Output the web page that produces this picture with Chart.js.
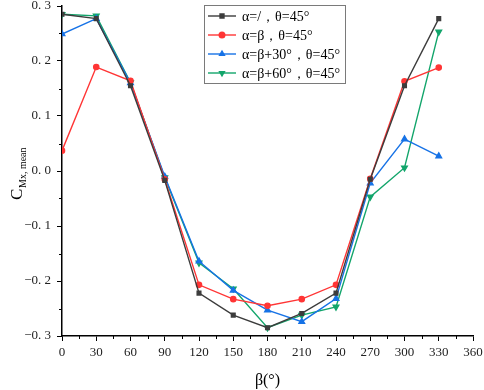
<!DOCTYPE html>
<html>
<head>
<meta charset="utf-8">
<script src="https://cdn.jsdelivr.net/npm/chart.js@4.4.0/dist/chart.umd.min.js"></script>
<style>
html,body{margin:0;padding:0;background:#fff;}
#wrap{width:484px;height:390px;position:relative;}
</style>
</head>
<body>
<div id="wrap"><canvas id="chart"></canvas></div>
<script>
// beta angles (x) and the four series
const betaValues = [0, 30, 60, 90, 120, 150, 180, 210, 240, 270, 300, 330];
const seriesLabels = ['α=/，θ=45°', 'α=β，θ=45°', 'α=β+30°，θ=45°', 'α=β+60°，θ=45°'];
const cmxAlphaNone = [0.285, 0.277, 0.155, -0.017, -0.222, -0.262, -0.285, -0.259, -0.222, -0.015, 0.155, 0.277];
const cmxAlphaBeta = [0.037, 0.189, 0.164, -0.015, -0.207, -0.233, -0.245, -0.233, -0.207, -0.014, 0.163, 0.188];
const cmxAlphaBeta30 = [0.249, 0.277, 0.160, -0.010, -0.164, -0.217, -0.253, -0.274, -0.232, -0.022, 0.058, 0.027];
const cmxAlphaBeta60 = [0.285, 0.282, 0.161, -0.012, -0.167, -0.214, -0.285, -0.262, -0.247, -0.047, 0.006, 0.253];
const xTicks = [0, 30, 60, 90, 120, 150, 180, 210, 240, 270, 300, 330, 360];
const yTicks = [-0.3, -0.2, -0.1, 0.0, 0.1, 0.2, 0.3];

const serif = "'Liberation Serif', 'DejaVu Serif', serif";
const colors = ['#3c3c3c', '#ff3535', '#1672e6', '#12a56b'];
const markers = ['rect', 'circle', 'triangle', 'triangle'];
const rotations = [0, 0, 0, 180];
const allSeries = [cmxAlphaNone, cmxAlphaBeta, cmxAlphaBeta30, cmxAlphaBeta60];

const datasets = allSeries.map((vals, i) => ({
label: seriesLabels[i],
data: vals.map((v, j) => ({x: betaValues[j], y: v})),
borderColor: colors[i],
backgroundColor: colors[i],
borderWidth: 1.4,
pointStyle: markers[i],
rotation: rotations[i],
pointRadius: markers[i] === 'triangle' ? 3.2 : 2.6,
tension: 0
}));

const fmtY = (v) => {
var s = Math.abs(v).toFixed(1).replace('.', '. ');
return (v < -1e-9 ? '\u2212' : '') + s;
};

// minor ticks, y title and in-plot legend
const extras = {
id: 'extras',
afterDraw(chart) {
const ctx = chart.ctx;
const xs = chart.scales.x, ys = chart.scales.y;
ctx.save();
ctx.strokeStyle = '#000';
ctx.lineWidth = 1;
// minor ticks
for (let v = 15; v < 360; v += 30) {
const px = Math.round(xs.getPixelForValue(v)) + 0.5;
ctx.beginPath();
ctx.moveTo(px, ys.bottom);
ctx.lineTo(px, ys.bottom + 3);
ctx.stroke();
}
for (let v = -0.25; v < 0.3; v += 0.1) {
const py = Math.round(ys.getPixelForValue(v)) + 0.5;
ctx.beginPath();
ctx.moveTo(xs.left, py);
ctx.lineTo(xs.left - 3, py);
ctx.stroke();
}
// y title with subscript
ctx.fillStyle = '#000';
ctx.translate(22, 178);
ctx.rotate(-Math.PI / 2);
ctx.textBaseline = 'alphabetic';
ctx.textAlign = 'left';
ctx.font = '17px ' + serif;
ctx.fillText('C', -22, 0);
ctx.font = '10px ' + serif;
ctx.fillText('Mx, mean', -10, 4);
ctx.restore();

// legend box
ctx.save();
const bx = 204, by = 5, bw = 141, bh = 78;
ctx.fillStyle = '#fff';
ctx.fillRect(bx, by, bw, bh);
ctx.strokeStyle = '#7a7a7a';
ctx.lineWidth = 1;
ctx.strokeRect(bx + 0.5, by + 0.5, bw, bh);
ctx.font = '14px ' + serif;
ctx.textBaseline = 'middle';
chart.data.datasets.forEach((ds, i) => {
const cy = by + 11 + i * 19;
ctx.strokeStyle = ds.borderColor;
ctx.lineWidth = 1.4;
ctx.beginPath();
ctx.moveTo(bx + 4, cy);
ctx.lineTo(bx + 32, cy);
ctx.stroke();
ctx.fillStyle = ds.borderColor;
Chart.helpers.drawPoint(ctx, {pointStyle: ds.pointStyle, rotation: ds.rotation, radius: 2.8, borderWidth: 1}, bx + 18, cy);
ctx.fillStyle = '#000';
ctx.fillText(ds.label, bx + 38, cy + 1);
});
ctx.restore();
}
};

new Chart(document.getElementById('chart'), {
type: 'line',
data: {datasets},
options: {
responsive: true,
maintainAspectRatio: false,
animation: false,
layout: {padding: {left: 0, right: 11, top: 6, bottom: 0}},
plugins: {legend: {display: false}, tooltip: {enabled: false}},
scales: {
x: {
type: 'linear',
min: 0, max: 360,
afterBuildTicks: (s) => { s.ticks = xTicks.map(v => ({value: v})); },
ticks: {color: '#222', font: {family: serif, size: 13}, padding: 4, maxRotation: 0, autoSkip: false},
grid: {display: true, drawOnChartArea: false, drawTicks: true, tickLength: 5, color: '#000'},
border: {display: true, color: '#000', width: 1.5},
title: {display: true, text: 'β(°)', color: '#000', font: {family: serif, size: 16}, padding: {top: 2, bottom: 0}},
afterFit: (s) => { s.height = 54; s.paddingLeft = 0; s.paddingRight = 0; }
},
y: {
min: -0.3, max: 0.3,
afterBuildTicks: (s) => { s.ticks = yTicks.map(v => ({value: v})); },
ticks: {color: '#222', font: {family: serif, size: 13}, padding: 6, callback: (v) => fmtY(v)},
grid: {display: true, drawOnChartArea: false, drawTicks: true, tickLength: 5, color: '#000'},
border: {display: true, color: '#000', width: 1.5},
afterFit: (s) => { s.width = 62; s.paddingTop = 0; s.paddingBottom = 0; }
}
}
},
plugins: [extras]
});
</script>
</body>
</html>
